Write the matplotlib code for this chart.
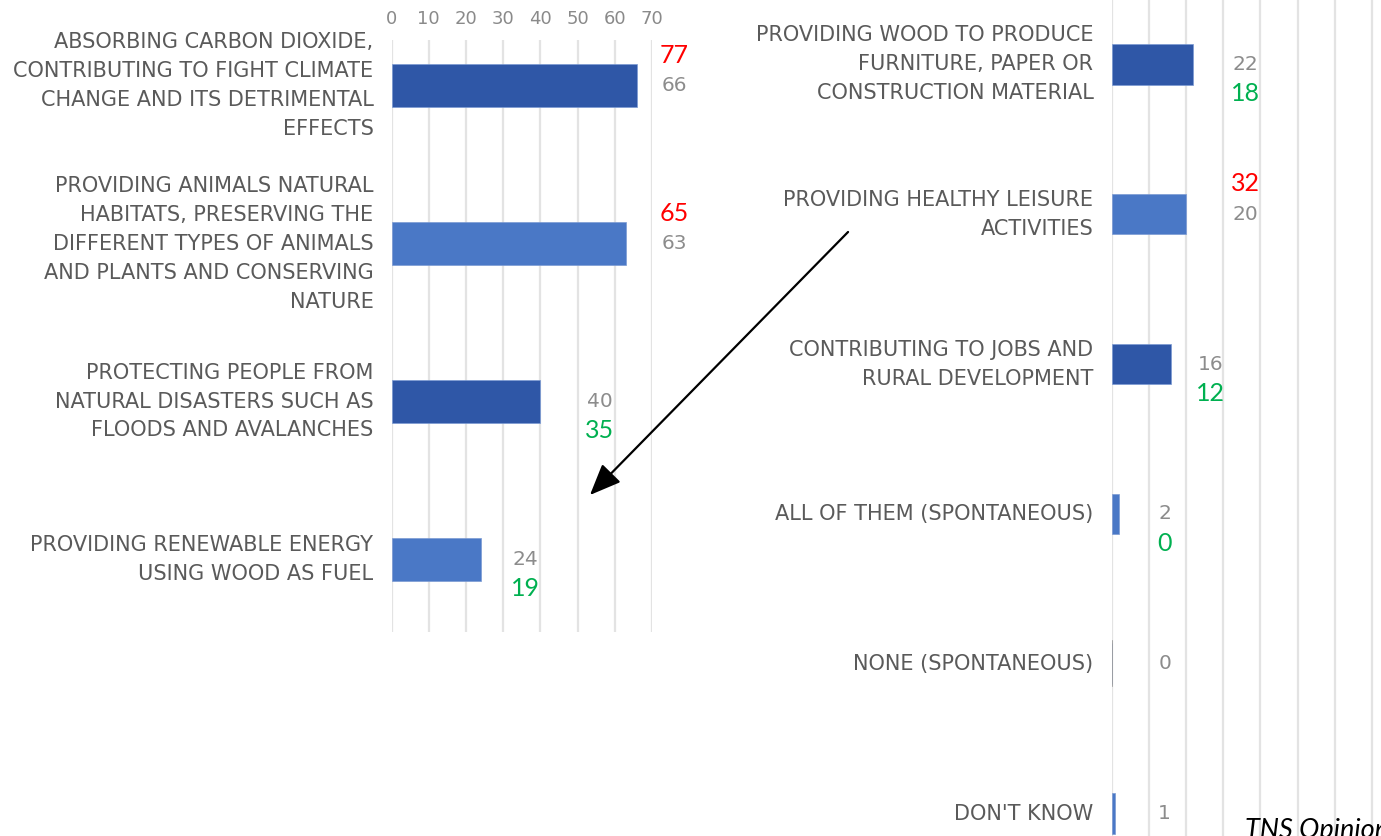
import matplotlib.pyplot as plt

left_cats = ['ABSORBING CARBON DIOXIDE,\nCONTRIBUTING TO FIGHT CLIMATE\nCHANGE AND ITS DETRIMENTAL\nEFFECTS',
             'PROVIDING ANIMALS NATURAL\nHABITATS, PRESERVING THE\nDIFFERENT TYPES OF ANIMALS\nAND PLANTS AND CONSERVING\nNATURE',
             'PROTECTING PEOPLE FROM\nNATURAL DISASTERS SUCH AS\nFLOODS AND AVALANCHES',
             'PROVIDING RENEWABLE ENERGY\nUSING WOOD AS FUEL']
left_vals = [66, 63, 40, 24]
left_red = [77, 65, None, None]
left_green = [None, None, 35, 19]

right_cats = ['PROVIDING WOOD TO PRODUCE\nFURNITURE, PAPER OR\nCONSTRUCTION MATERIAL',
              'PROVIDING HEALTHY LEISURE\nACTIVITIES',
              'CONTRIBUTING TO JOBS AND\nRURAL DEVELOPMENT',
              'ALL OF THEM (SPONTANEOUS)',
              'NONE (SPONTANEOUS)',
              "DON'T KNOW"]
right_vals = [22, 20, 16, 2, 0, 1]
right_red = [None, 32, None, None, None, None]
right_green = [18, None, 12, 0, None, None]

ticks = [0, 10, 20, 30, 40, 50, 60, 70]

# layout
left_lab_x = [76, 76, 56, 36]
right_lab_x = [36, 36, 26.5, 14.3, 14.3, 14.3]
dark = '#2F57A7'
light = '#4A78C6'
left_cols = [dark, light, dark, light]
right_cols = [dark, light, dark, light, light, light]

lab_font = dict(family='DejaVu Sans', color='#5A5A5A', fontsize=15, linespacing=1.56)
val_font = dict(family='DejaVu Sans', color='#8C8C8C', fontsize=14.5)
ann_font = dict(family='Lato', fontsize=18)

fig = plt.figure(figsize=(13.81, 8.36), dpi=100)

ax1 = fig.add_axes([391.5 / 1381, 1 - 632 / 836, 260.5 / 1381, 592 / 836])
ax2 = fig.add_axes([1111.5 / 1381, 0, 269.5 / 1381, 1])


def panel(ax, cats, vals, reds, greens, lab_x, cols, ylim, xmax):
    y = list(range(len(vals)))
    ax.barh(y, vals, height=0.27, color=cols, edgecolor='#7B9AD3', linewidth=0.5, zorder=3)
    for i, v in enumerate(vals):
        if v == 0:
            ax.plot([0, 0], [i - 0.15, i + 0.15], color='#9A9A9A', lw=1.2, zorder=4)
        ax.text(lab_x[i], i, str(v), ha='center', va='center', clip_on=False, **val_font)
        if reds[i] is not None:
            ax.annotate(str(reds[i]), (lab_x[i], i), xytext=(0, 22), textcoords='offset points',
                        ha='center', va='center', color='#FF0000', annotation_clip=False, **ann_font)
        if greens[i] is not None:
            ax.annotate(str(greens[i]), (lab_x[i], i), xytext=(0, -21), textcoords='offset points',
                        ha='center', va='center', color='#00B050', annotation_clip=False, **ann_font)
        ax.annotate(cats[i], (0, i), xytext=(-13, 0), textcoords='offset points',
                    ha='right', va='center', multialignment='right', annotation_clip=False, **lab_font)
    ax.set_ylim(*ylim)
    ax.set_xlim(0, xmax)
    ax.set_xticks(ticks)
    ax.xaxis.grid(True, color='#E3E3E3', lw=1.6)
    ax.set_axisbelow(True)
    ax.set_yticks([])
    for s in ax.spines.values():
        s.set_visible(False)
    ax.tick_params(axis='x', length=0)


panel(ax1, left_cats, left_vals, left_red, left_green, left_lab_x, left_cols, (3.46, -0.29), 70)
panel(ax2, right_cats, right_vals, right_red, right_green, right_lab_x, right_cols, (5.15, -0.43), 72.4)

ax1.xaxis.tick_top()
ax1.tick_params(axis='x', pad=9, labelsize=13, labelcolor='#8A8A8A')
ax2.set_xticklabels([])

fig.patches.append(plt.matplotlib.patches.FancyArrowPatch(
    (850 / 1381, 1 - 230 / 836), (588 / 1381, 1 - 497 / 836), transform=fig.transFigure,
    arrowstyle='-|>,head_length=1.2,head_width=0.5', mutation_scale=16, color='black', lw=1.6))

fig.text(1245 / 1381, 1 - 818 / 836, 'TNS Opinion', family='Lato', style='italic',
         fontsize=19.5, color='black', ha='left', va='top')

fig.savefig('out.png', dpi=100)
